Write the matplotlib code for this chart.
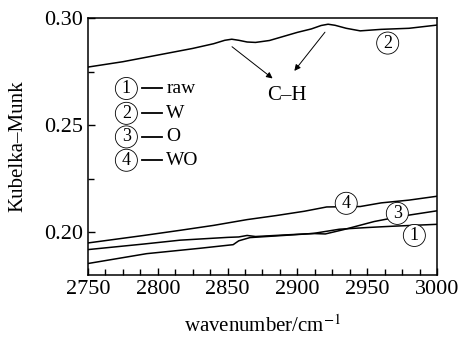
import matplotlib
matplotlib.use('Agg')
import matplotlib.pyplot as plt
from matplotlib.ticker import MultipleLocator

plt.rcParams['font.family'] = ['Liberation Serif', 'DejaVu Serif']
plt.rcParams['mathtext.fontset'] = 'stix'

# curve data
wn_raw = [2750, 2792, 2830, 2854, 2858, 2866, 2890, 2911, 2930, 2950, 2968, 3000]
km_raw = [0.1854, 0.1900, 0.1925, 0.1942, 0.1960, 0.1975, 0.1985, 0.1994, 0.2014, 0.2022, 0.2028, 0.2037]

wn_w = [2750, 2775, 2800, 2825, 2840, 2848, 2853, 2858, 2864, 2870, 2880, 2900, 2910, 2917, 2922, 2927, 2935, 2945, 2960, 2980, 3000]
km_w = [0.2771, 0.2796, 0.2827, 0.2858, 0.2880, 0.2896, 0.2901, 0.2896, 0.2888, 0.2886, 0.2895, 0.2933, 0.2949, 0.2965, 0.2971, 0.2966, 0.2952, 0.2940, 0.2947, 0.2952, 0.2967]

wn_o = [2750, 2790, 2816, 2850, 2858, 2864, 2870, 2890, 2911, 2920, 2933, 2955, 2975, 3000]
km_o = [0.1919, 0.1945, 0.1963, 0.1976, 0.1978, 0.1985, 0.1980, 0.1987, 0.1994, 0.1992, 0.2012, 0.2050, 0.2075, 0.2100]

wn_wo = [2750, 2790, 2816, 2840, 2864, 2885, 2905, 2921, 2945, 2960, 2980, 3000]
km_wo = [0.1950, 0.1985, 0.2009, 0.2032, 0.2059, 0.2078, 0.2098, 0.2118, 0.2120, 0.2137, 0.2150, 0.2168]

series = [('1', 'raw', wn_raw, km_raw), ('2', 'W', wn_w, km_w),
          ('3', 'O', wn_o, km_o), ('4', 'WO', wn_wo, km_wo)]

# where the circled numbers sit on the curves
tag_pos = {'1': (2983.8, 0.1985), '2': (2964.7, 0.2883), '3': (2971.6, 0.2088), '4': (2935, 0.2135)}
legend_y = [0.2671, 0.2555, 0.2445, 0.2336]

fig = plt.figure(figsize=(4.59, 3.43), dpi=100)
ax = fig.add_axes([0.1917, 0.198, 0.7603, 0.7495])

circ = dict(boxstyle='circle,pad=0.14', fc='white', ec='black', lw=0.6)

for num, name, x, y in series:
    ax.plot(x, y, color='black', lw=1.1)
    tx, ty = tag_pos[num]
    ax.text(tx, ty, num, ha='center', va='center', fontsize=13, bbox=circ)

for (num, name, x, y), ly in zip(series, legend_y):
    ax.text(2777.5, ly, num, ha='center', va='center', fontsize=13, bbox=circ)
    ax.plot([2789, 2803], [ly, ly], color='black', lw=1.3)
    ax.text(2806, ly, name, ha='left', va='center', fontsize=14)

ax.text(2892.4, 0.2640, 'C\u2013H', ha='center', va='center', fontsize=15)
ax.annotate('', xy=(2883.8, 0.2710), xytext=(2851.6, 0.2874),
            arrowprops=dict(arrowstyle='-|>', color='black', lw=0.7, mutation_scale=9))
ax.annotate('', xy=(2896.6, 0.2743), xytext=(2921, 0.2944),
            arrowprops=dict(arrowstyle='-|>', color='black', lw=0.7, mutation_scale=9))

ax.set_xlim(2750, 3000)
ax.set_ylim(0.18, 0.30)
ax.xaxis.set_major_locator(MultipleLocator(50))
ax.xaxis.set_minor_locator(MultipleLocator(12.5))
ax.yaxis.set_major_locator(MultipleLocator(0.05))
ax.yaxis.set_minor_locator(MultipleLocator(0.025))
ax.tick_params(which='both', direction='in', top=False, right=False, labelsize=16)
ax.tick_params(which='major', length=5, width=1)
ax.tick_params(which='minor', length=4, width=1)
ax.set_yticks([0.20, 0.25, 0.30])
ax.set_yticklabels(['0.20', '0.25', '0.30'])
for s in ax.spines.values():
    s.set_linewidth(1.1)

ax.set_xlabel('wavenumber/cm$^{-1}$', fontsize=15, labelpad=12)
ax.set_ylabel('Kubelka\u2013Munk', fontsize=15, labelpad=12)

fig.savefig('out.png', dpi=100)
